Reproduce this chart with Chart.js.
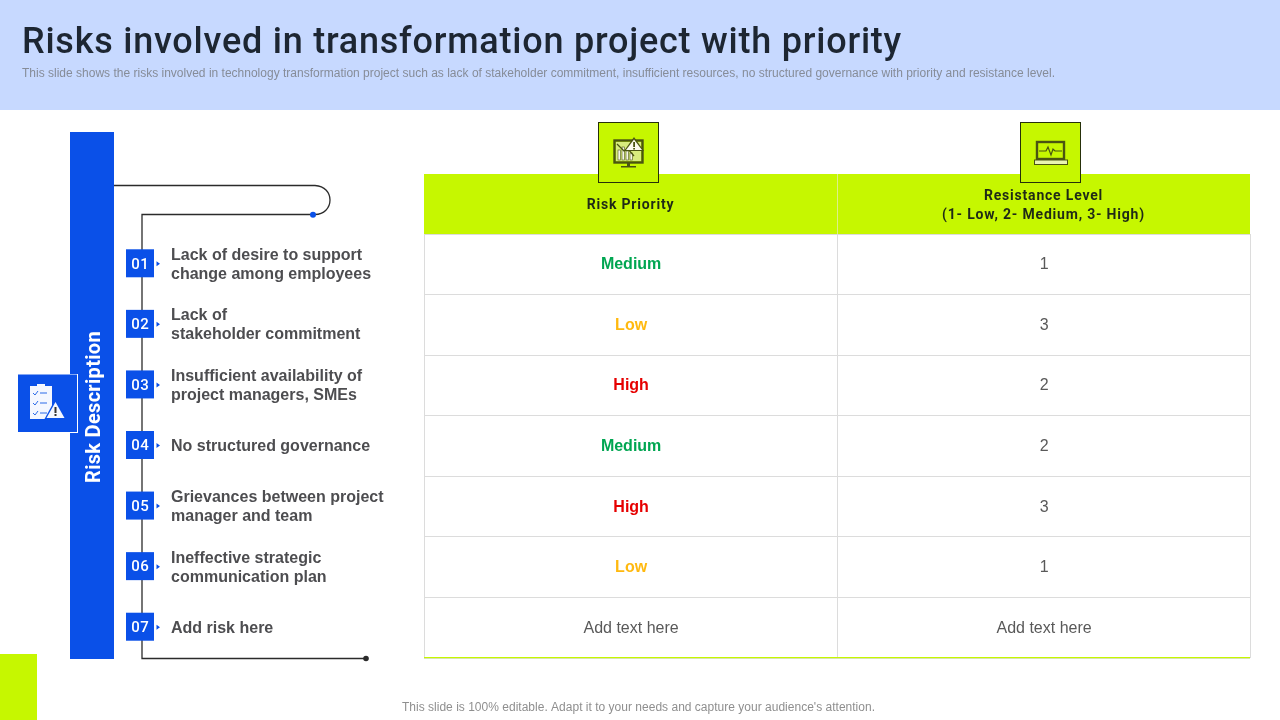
<!DOCTYPE html>
<html><head><meta charset="utf-8">
<style>html,body{margin:0;padding:0;background:#fff;overflow:hidden}canvas{display:block}</style>
<script src="https://cdn.jsdelivr.net/npm/chart.js@4"></script>
</head><body><canvas id="c" width="1280" height="720"></canvas>
<script>
const titleText = "Risks involved in transformation project with priority";
const subtitleText = "This slide shows the risks involved in technology transformation project such as lack of stakeholder commitment, insufficient resources, no structured governance with priority and resistance level.";
const footerText = "This slide is 100% editable. Adapt it to your needs and capture your audience's attention.";
const sideTitle = "Risk Description";
const rowIds = ["01","02","03","04","05","06","07"];
const riskLines = [
  ["Lack of desire to support","change among employees"],
  ["Lack of","stakeholder commitment"],
  ["Insufficient availability of","project managers, SMEs"],
  ["No structured governance"],
  ["Grievances between project","manager and team"],
  ["Ineffective strategic","communication plan"],
  ["Add risk here"]
];
const columns = ["Risk Priority","Resistance Level"];
const columnLines = [["Risk Priority"],["Resistance Level","(1- Low, 2- Medium, 3- High)"]];
const priority = ["Medium","Low","High","Medium","High","Low","Add text here"];
const resistance = ["1","3","2","2","3","1","Add text here"];
const priorityColors = {Medium:"#00a651",Low:"#ffb90f",High:"#e60000"};

const BLUE="#0a50e8", LIME="#c6f700", INK="#2b2b2b";

function fitText(ctx,text,font,x,y,width,color,align){
  ctx.save();ctx.font=font;ctx.fillStyle=color;ctx.textAlign=align||"left";ctx.textBaseline="middle";
  ctx.letterSpacing="0px";
  const w=ctx.measureText(text).width;
  ctx.letterSpacing=((width-w)/text.length).toFixed(3)+"px";
  ctx.fillText(text,x,y);ctx.restore();
}
function rect(ctx,x,y,w,h,c){ctx.fillStyle=c;ctx.fillRect(x,y,w,h);}
function poly(ctx,pts,c){ctx.fillStyle=c;ctx.beginPath();pts.forEach((p,i)=>i?ctx.lineTo(p[0],p[1]):ctx.moveTo(p[0],p[1]));ctx.closePath();ctx.fill();}

const slidePlugin={
  id:"slide",
  beforeDraw(chart){
    const ctx=chart.ctx,a=chart.chartArea,xs=chart.scales.x,ys=chart.scales.y;
    // nudge the row labels to the reference's text baseline
    const items=ys.getLabelItems(a);
    if(!items.nudged){items.forEach(it=>{it.textOffset+=0.6;});items.nudged=true;}
    rect(ctx,0,0,1280,720,"#fff");
    rect(ctx,0,0,1280,110,"#c7d9ff");
    rect(ctx,0,654,37,66,LIME);
    fitText(ctx,titleText,'500 36px Roboto',22,43.5,880,"#1d2632");
    fitText(ctx,subtitleText,'12px "Liberation Sans"',22,73.5,1033,"#868c98");
    fitText(ctx,footerText,'12px "Liberation Sans"',402,708,473,"#8f8f8f");
    // table header band
    rect(ctx,a.left,xs.top,a.right-a.left,xs.bottom-xs.top,LIME);
    ctx.strokeStyle="#dcef8a";ctx.lineWidth=1;
    const mid=(xs.getPixelForValue(0)+xs.getPixelForValue(1))/2;
    ctx.beginPath();ctx.moveTo(Math.round(mid)+.5,xs.top);ctx.lineTo(Math.round(mid)+.5,xs.bottom);ctx.stroke();
    // side bar
    rect(ctx,70,132,44,527,BLUE);
    // connector
    ctx.strokeStyle=INK;ctx.lineWidth=1.3;ctx.beginPath();
    ctx.moveTo(114,185.5);ctx.lineTo(315,185.5);
    ctx.bezierCurveTo(325,186,330,193,330,200);
    ctx.bezierCurveTo(330,208,324,214.5,315,214.5);
    ctx.lineTo(142,214.5);ctx.lineTo(142,658.5);ctx.lineTo(366,658.5);ctx.stroke();
    ctx.fillStyle=INK;ctx.beginPath();ctx.arc(366,658.5,2.8,0,7);ctx.fill();
    ctx.fillStyle=BLUE;ctx.beginPath();ctx.arc(313,214.8,3,0,7);ctx.fill();
  },
  afterDatasetsDraw(chart){
    const ctx=chart.ctx,ys=chart.scales.y,a=chart.chartArea;
    // cell values, placed through the library's elements
    const texts=[priority,resistance];
    chart.data.datasets.forEach((d,k)=>{
      chart.getDatasetMeta(k).data.forEach((pt,i)=>{
        const t=texts[k][i],col=k===0&&priorityColors[t];
        ctx.font=(col?'bold ':'')+'16px "Liberation Sans"';
        ctx.fillStyle=col||"#595959";ctx.textAlign="center";ctx.textBaseline="middle";
        ctx.fillText(t,pt.x+0.6,pt.y+0.6);
      });
    });
    // numbered badges
    rowIds.forEach(id=>{
      const y=ys.getPixelForValue(rowIds.indexOf(id));
      rect(ctx,126,y-15,28,28,BLUE);
      poly(ctx,[[156.5,y-3],[160,y-0.5],[156.5,y+2]],BLUE);
      ctx.font='500 15px Roboto';ctx.fillStyle="#fff";ctx.textAlign="center";ctx.textBaseline="middle";
      ctx.letterSpacing="0.4px";ctx.fillText(id,140.3,y+0.5);ctx.letterSpacing="0px";
    });
    // bottom table rule
    rect(ctx,a.left,a.bottom-1,a.right-a.left,1.2,LIME);
    // rotated side title
    ctx.save();ctx.translate(94.5,407);ctx.rotate(-Math.PI/2);
    fitText(ctx,sideTitle,'700 20px Roboto',0,0,152,"#fff","center");ctx.restore();
    // left icon
    rect(ctx,18,374,60,59,"#fff");rect(ctx,18,374.5,59,57.5,BLUE);
    rect(ctx,30,386,22,33,"#f4f7ff");rect(ctx,37,384,8,4,"#f4f7ff");
    [393,403,413].forEach(y=>{
      ctx.strokeStyle="#2a6be8";ctx.lineWidth=1;ctx.beginPath();ctx.moveTo(33,y);ctx.lineTo(35,y+2);ctx.lineTo(38,y-2);ctx.moveTo(40,y);ctx.lineTo(47,y);ctx.stroke();
    });
    poly(ctx,[[55.5,399],[66.5,419],[44.5,419]],BLUE);
    poly(ctx,[[55.5,402],[64.5,418],[46.5,418]],"#f4f7ff");
    rect(ctx,54.5,407,2,6,"#333");rect(ctx,54.5,414,2,2,"#333");
    // header icon boxes
    [[598,122],[1020,122]].forEach(b=>{
      rect(ctx,b[0],b[1],61,61,LIME);ctx.strokeStyle="#26300a";ctx.lineWidth=1;ctx.strokeRect(b[0]+.5,b[1]+.5,60,60);
    });
    const dk="#4a5412";
    // monitor with alert
    ctx.strokeStyle=dk;ctx.lineWidth=2.4;ctx.strokeRect(614.5,140.5,28,22);
    rect(ctx,616,142,25,19,"#d8ec7e");
    rect(ctx,627,163,3,3,dk);rect(ctx,621,166,15,1.5,dk);
    [[618,10],[622,13],[626,9],[630,7]].forEach(b=>{rect(ctx,b[0],160-b[1],2.5,b[1],"#f6f6e8");ctx.strokeStyle=dk;ctx.lineWidth=.6;ctx.strokeRect(b[0],160-b[1],2.5,b[1]);});
    ctx.strokeStyle=dk;ctx.lineWidth=1.3;ctx.beginPath();ctx.moveTo(617,144);ctx.lineTo(624,151);ctx.lineTo(628,149);ctx.lineTo(634,156);ctx.stroke();
    poly(ctx,[[634,137],[644,151],[624,151]],dk);
    poly(ctx,[[634,139.5],[642,150],[626,150]],"#fbfbf0");
    rect(ctx,633.2,142,1.8,5,dk);rect(ctx,633.2,148,1.8,1.5,dk);
    // laptop with pulse
    ctx.strokeStyle=dk;ctx.lineWidth=2.4;ctx.strokeRect(1037,142,27,17);
    rect(ctx,1034,160,34,4,"#e9f5b0");ctx.lineWidth=1;ctx.strokeRect(1034.5,160,33,4.5);
    ctx.lineWidth=1.2;ctx.beginPath();
    [[1039,151],[1046,151],[1048,147],[1051,155],[1053,149],[1055,151],[1062,151]].forEach((p,i)=>i?ctx.lineTo(p[0],p[1]):ctx.moveTo(p[0],p[1]));
    ctx.stroke();
    // header labels get the tracked look of the reference
    ctx.letterSpacing="0.8px";
  },
  afterDraw(chart){chart.ctx.letterSpacing="0px";}
};

new Chart(document.getElementById("c"),{
  type:"line",
  data:{
    datasets:[
      {label:columns[0],showLine:false,pointRadius:0,data:rowIds.map(id=>({x:columns[0],y:id}))},
      {label:columns[1],showLine:false,pointRadius:0,data:rowIds.map(id=>({x:columns[1],y:id}))}
    ]
  },
  options:{
    responsive:false,animation:false,devicePixelRatio:1,
    layout:{padding:{left:171,top:174,right:30,bottom:62}},
    plugins:{legend:{display:false},tooltip:{enabled:false},title:{display:false}},
    scales:{
      x:{type:"category",position:"top",labels:columns,offset:true,
        afterFit(s){s.height=60;},
        grid:{offset:true,drawTicks:false,color:"#dcdcdc"},border:{display:false},
        ticks:{z:1,padding:19,crossAlign:"center",maxRotation:0,autoSkip:false,color:"#1f2a16",
          font:{family:"Roboto",weight:"700",size:14,lineHeight:"19px"},
          callback(v,i){return columnLines[i];}}},
      y:{type:"category",labels:rowIds,offset:true,
        afterFit(s){s.width=253;},
        grid:{offset:true,drawTicks:false,color:"#dcdcdc"},border:{display:false},
        ticks:{crossAlign:"far",padding:0,autoSkip:false,color:"#4d4d50",
          font:{family:"Liberation Sans",weight:"bold",size:16,lineHeight:"19px"},
          callback(v,i){return riskLines[i];}}}
    }
  },
  plugins:[slidePlugin]
});
</script></body></html>
